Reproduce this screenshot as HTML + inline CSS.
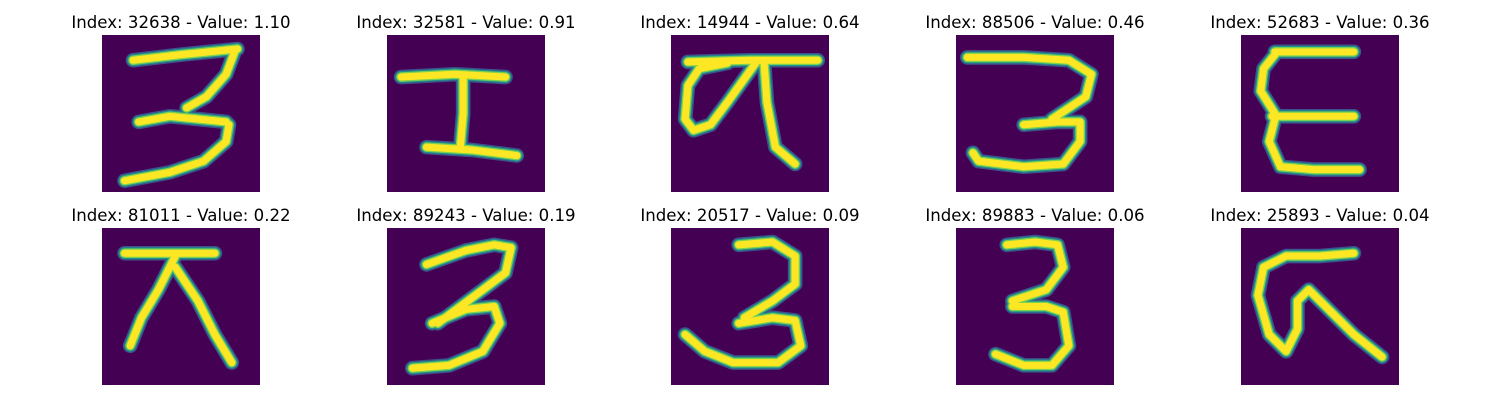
<!DOCTYPE html>
<html><head><meta charset="utf-8"><style>
html,body{margin:0;padding:0;background:#fff;}
body{width:1500px;height:400px;position:relative;overflow:hidden;font-family:"DejaVu Sans","Liberation Sans",sans-serif;}
.t{position:absolute;width:300px;text-align:center;font-size:16.6px;color:#000;line-height:19px;}
svg.p{position:absolute;width:158px;height:157px;}
</style></head><body>
<div id="root"></div>
<script>
const indices=[32638,32581,14944,88506,52683,81011,89243,20517,89883,25893];
const values=[1.10,0.91,0.64,0.46,0.36,0.22,0.19,0.09,0.06,0.04];
const strokes=[
 [[[5.5,4.5],[14,3.5],[24,2.5]],[[23.5,3],[22,7],[18.5,11],[15,13]],[[6.5,15.5],[12,14.5],[22,15.5]],[[22.5,16],[22,19],[18,22.5],[12,24.5],[4,26]]],
 [[[2.5,7.5],[12,7],[21,7.5]],[[13.5,7.5],[13.5,14],[13,20]],[[7,20],[15,20.5],[23,21.5]]],
 [[[3,4.8],[14,4.5],[26,4.5]],[[10,5],[5,6],[3,9],[2.5,15],[4,17],[7,16],[10,12],[15,5]],[[16.5,5],[17,12],[18.5,20],[22,23]]],
 [[[2,4],[12,4],[20,4.5],[24,7],[23,11],[17,15]],[[12,16],[18,15.5],[22,15.5],[22,19],[19,23],[12,23.5],[4,22.5],[3,21]]],
 [[[6,3],[13,3],[20,3]],[[6,3.5],[4,6],[3.5,10],[6,14]],[[5.5,14.5],[13,14.5],[20,14.5]],[[6,15],[5,19],[7,23.5],[13,24],[21,24]]],
 [[[4,4.5],[12,4.5],[20,4.5]],[[13,5],[10,11],[7,16],[5,21]],[[13,7],[17,13],[20,19],[23,24]]],
 [[[7,6.5],[14,4],[19,3],[22,3.5],[21,8],[17,11],[9,17]],[[8,17],[14,14.5],[19,14],[20,17],[17,22],[11,24.5],[4.5,25]]],
 [[[12,3],[18,2.5],[22,5],[22,10],[18,13],[13,16]],[[12,17],[18,16],[22,16.5],[23,21],[19,24],[11,24],[6,22],[2.5,19]]],
 [[[9,3],[14,2.5],[18,3],[19,7],[16,11],[10,13]],[[10,14],[16,14],[19,15],[20,21],[17,24.5],[12,24.5],[7,22.5]]],
 [[[4,7],[8,5],[14,5],[20,4.5]],[[4,7],[3,12],[5,19],[8,22],[10,18],[10,13],[12,11],[16,15],[20,19],[25,23]]]
];
const colsX=[102,387,671,956,1241], rowsY=[35,228];
const NS="http://www.w3.org/2000/svg";
const root=document.getElementById('root');
indices.forEach((idx,i)=>{
  const x=colsX[i%5], y=rowsY[Math.floor(i/5)];
  const t=document.createElement('div');
  t.className='t';
  
  
  t.style.left=(x+79-150)+'px'; t.style.top=(y-22)+'px';
  t.textContent='Index: '+idx+' - Value: '+values[i].toFixed(2);
  root.appendChild(t);
  const s=document.createElementNS(NS,'svg');
  s.setAttribute('class','p');
  
  
  s.setAttribute('viewBox','0 0 28 28');
  s.setAttribute('preserveAspectRatio','none');
  s.style.left=x+'px'; s.style.top=y+'px';
  let h='<rect width="28" height="28" fill="#440154"/>';
  const layers=[['#3b528b',2.6],['#21918c',2.1],['#7ad151',1.7],['#fde725',1.25]];
  layers.forEach(([c,w])=>{
    strokes[i].forEach(pl=>{
      h+='<polyline points="'+pl.map(p=>p.join(',')).join(' ')+'" fill="none" stroke="'+c+'" stroke-width="'+w+'" stroke-linecap="round" stroke-linejoin="round"/>';
    });
  });
  s.innerHTML=h;
  root.appendChild(s);
});
</script>
</body></html>
